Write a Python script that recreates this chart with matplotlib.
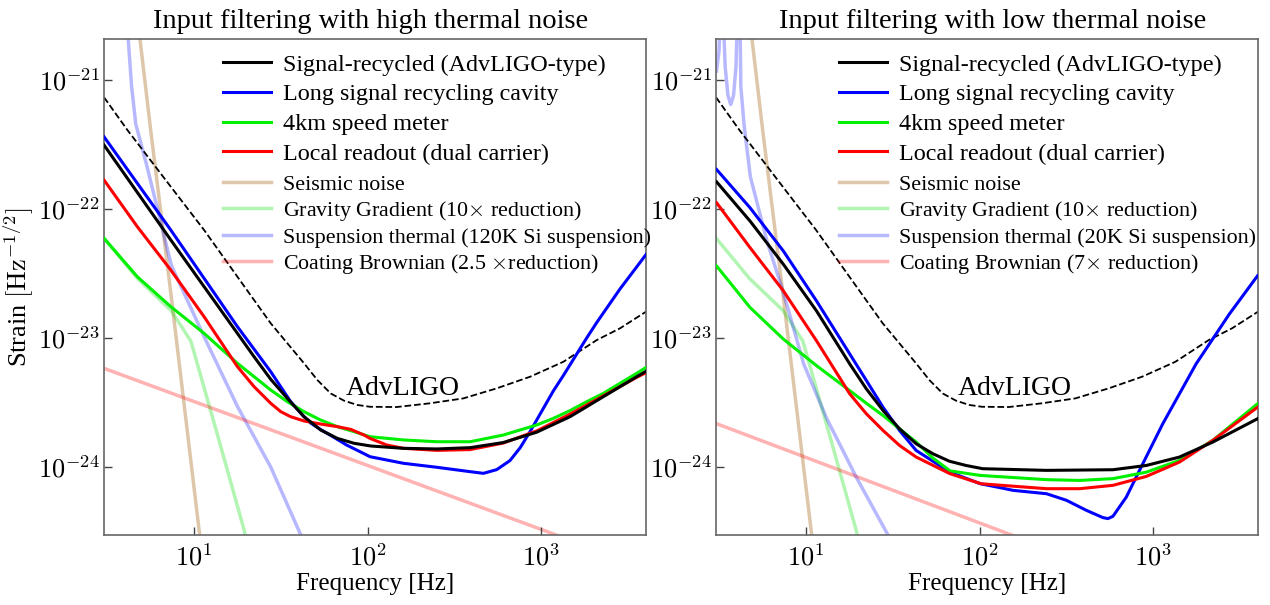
import numpy as np
import matplotlib
matplotlib.use('Agg')
import matplotlib.pyplot as plt
from matplotlib.ticker import FuncFormatter, NullLocator

plt.rcParams['font.family'] = ['Liberation Serif', 'DejaVu Serif']
plt.rcParams['mathtext.fontset'] = 'cm'

# ---------------- data (log10 frequency [Hz], log10 strain) ----------------
# AdvLIGO reference (same in both panels)
adv_lf = [0.481, 0.616, 0.866, 1.058, 1.25, 1.442, 1.538, 1.634, 1.711, 1.788, 1.865, 1.941, 2.014, 2.168,
          2.36, 2.552, 2.745, 2.937, 3.129, 3.321, 3.455, 3.605]
adv_lh = [-21.134, -21.388, -21.827, -22.163, -22.525, -22.886, -23.041, -23.196, -23.326, -23.43, -23.486,
          -23.519, -23.533, -23.535, -23.506, -23.468, -23.39, -23.30, -23.184, -23.016, -22.925, -22.796]

# Seismic noise (both panels)
seis_lf = [0.66, 0.689, 0.750, 0.871, 1.029, 1.045]
seis_lh = [-20.40, -20.69, -21.388, -22.705, -24.488, -24.65]

# Gravity gradient, 10x reduction (both panels)
gg_lf = [0.481, 0.675, 0.804, 0.869, 0.982, 1.135, 1.289, 1.30]
gg_lh = [-22.225, -22.54, -22.705, -22.789, -23.025, -23.75, -24.49, -24.56]

# ---- Left panel: high thermal noise ----
hi_black_lf = [0.481, 0.866, 1.25, 1.346, 1.442, 1.538, 1.634, 1.73, 1.826, 1.922, 2.018, 2.206, 2.399,
               2.591, 2.783, 2.975, 3.167, 3.359, 3.551, 3.618]
hi_black_lh = [-21.504, -22.240, -22.964, -23.145, -23.320, -23.468, -23.610, -23.713, -23.778, -23.816,
               -23.837, -23.855, -23.860, -23.85, -23.81, -23.73, -23.61, -23.455, -23.30, -23.248]

hi_blue_lf = [0.481, 0.866, 1.25, 1.442, 1.557, 1.634, 1.673, 1.73, 1.784, 1.880, 1.976, 2.014, 2.206,
              2.399, 2.591, 2.668, 2.745, 2.821, 2.88, 2.937, 3.071, 3.129, 3.263, 3.321, 3.455, 3.618]
hi_blue_lh = [-21.44, -22.163, -22.912, -23.261, -23.494, -23.61, -23.66, -23.71, -23.752, -23.83, -23.894,
              -23.92, -23.971, -24.002, -24.036, -24.049, -24.02, -23.95, -23.85, -23.725, -23.41, -23.29,
              -23.0, -22.88, -22.62, -22.33]

hi_green_lf = [0.481, 0.673, 0.866, 1.058, 1.25, 1.442, 1.538, 1.634, 1.73, 1.826, 1.922, 2.014, 2.206,
               2.399, 2.591, 2.687, 2.783, 2.879, 2.975, 3.071, 3.167, 3.263, 3.359, 3.455, 3.551, 3.618]
hi_green_lh = [-22.227, -22.525, -22.757, -22.964, -23.196, -23.403, -23.494, -23.571, -23.636, -23.687,
               -23.726, -23.765, -23.79, -23.804, -23.804, -23.778, -23.752, -23.713, -23.674, -23.623,
               -23.563, -23.494, -23.429, -23.351, -23.274, -23.217]

hi_red_lf = [0.481, 0.673, 0.866, 1.058, 1.25, 1.346, 1.442, 1.5, 1.557, 1.634, 1.73, 1.826, 1.903, 1.98,
             2.014, 2.11, 2.206, 2.399, 2.591, 2.783, 2.975, 3.167, 3.359, 3.551, 3.618]
hi_red_lh = [-21.775, -22.137, -22.473, -22.835, -23.222, -23.377, -23.506, -23.571, -23.610, -23.643,
             -23.667, -23.687, -23.708, -23.752, -23.778, -23.829, -23.855, -23.871, -23.865, -23.814,
             -23.72, -23.59, -23.448, -23.305, -23.26]

hi_susp_lf = [0.600, 0.615, 0.621, 0.640, 0.664, 0.727, 0.870, 1.058, 1.250, 1.442, 1.611, 1.65]
hi_susp_lh = [-20.0, -20.4, -20.69, -21.05, -21.34, -21.66, -22.44, -22.99, -23.53, -24.00, -24.514, -24.6]

hi_coat_lf = [0.481, 3.062, 3.15]
hi_coat_lh = [-23.235, -24.514, -24.56]

# ---- Right panel: low thermal noise ----
lo_black_lf = [0.484, 0.677, 0.869, 1.060, 1.252, 1.348, 1.444, 1.539, 1.635, 1.731, 1.826, 1.922, 2.018,
               2.386, 2.769, 2.961, 3.152, 3.344, 3.602]
lo_black_lh = [-21.789, -22.093, -22.428, -22.789, -23.201, -23.395, -23.562, -23.704, -23.82, -23.897,
               -23.955, -23.988, -24.013, -24.026, -24.021, -23.988, -23.923, -23.807, -23.626]

lo_blue_lf = [0.484, 0.677, 0.869, 1.060, 1.252, 1.348, 1.444, 1.539, 1.635, 1.83, 2.003, 2.099, 2.194,
              2.386, 2.501, 2.616, 2.711, 2.74, 2.769, 2.846, 2.922, 3.056, 3.248, 3.440, 3.602]
lo_blue_lh = [-21.693, -21.99, -22.325, -22.712, -23.124, -23.33, -23.537, -23.717, -23.872, -24.04,
              -24.129, -24.155, -24.181, -24.207, -24.258, -24.336, -24.392, -24.40, -24.382, -24.233,
              -24.026, -23.665, -23.201, -22.814, -22.518]

lo_green_lf = [0.484, 0.677, 0.869, 1.060, 1.252, 1.348, 1.444, 1.539, 1.635, 1.731, 1.83, 2.003, 2.386,
               2.578, 2.769, 2.961, 3.152, 3.344, 3.602]
lo_green_lh = [-22.441, -22.763, -23.008, -23.214, -23.408, -23.506, -23.601, -23.704, -23.807, -23.93,
               -24.03, -24.065, -24.098, -24.104, -24.09, -24.04, -23.949, -23.794, -23.510]

lo_red_lf = [0.484, 0.677, 0.869, 1.060, 1.252, 1.348, 1.444, 1.539, 1.635, 1.83, 2.01, 2.386, 2.578,
             2.769, 2.961, 3.152, 3.344, 3.602]
lo_red_lh = [-21.951, -22.299, -22.634, -23.021, -23.433, -23.588, -23.717, -23.833, -23.923, -24.052,
             -24.13, -24.168, -24.168, -24.142, -24.073, -23.962, -23.794, -23.537]

lo_susp_lf = [0.484, 0.498, 0.508, 0.514, 0.521, 0.534, 0.550, 0.566, 0.582, 0.596, 0.606, 0.614, 0.624,
              0.643, 0.679, 0.775, 0.870, 0.986, 1.118, 1.290, 1.467, 1.50]
lo_susp_lh = [-20.93, -20.78, -20.45, -19.9, -20.45, -20.90, -21.12, -21.19, -21.12, -20.90, -20.45,
              -19.9, -21.05, -21.35, -21.75, -22.25, -22.65, -23.20, -23.62, -24.08, -24.514, -24.6]

lo_coat_lf = [0.486, 2.147, 2.25]
lo_coat_lh = [-23.665, -24.508, -24.56]

titles = ['Input filtering with high thermal noise', 'Input filtering with low thermal noise']
main_labels = ['Signal-recycled (AdvLIGO-type)', 'Long signal recycling cavity', '4km speed meter',
               'Local readout (dual carrier)']
noise_labels_hi = ['Seismic noise', r'Gravity Gradient (10$\times$ reduction)',
                   'Suspension thermal (120K Si suspension)', r'Coating Brownian (2.5 $\times$reduction)']
noise_labels_lo = ['Seismic noise', r'Gravity Gradient (10$\times$ reduction)',
                   'Suspension thermal (20K Si suspension)', r'Coating Brownian (7$\times$ reduction)']


def P(a):
    return 10.0 ** np.asarray(a)


W, H = 1270, 605
fig = plt.figure(figsize=(W / 100, H / 100), dpi=100)
ax1 = fig.add_axes([104 / W, 70 / H, 542 / W, 496 / H])
ax2 = fig.add_axes([716 / W, 70 / H, 542 / W, 496 / H])

panels = [
    (ax1, hi_black_lf, hi_black_lh, hi_blue_lf, hi_blue_lh, hi_green_lf, hi_green_lh, hi_red_lf, hi_red_lh,
     hi_susp_lf, hi_susp_lh, hi_coat_lf, hi_coat_lh, noise_labels_hi, titles[0], 0.2196, 0.4917),
    (ax2, lo_black_lf, lo_black_lh, lo_blue_lf, lo_blue_lh, lo_green_lf, lo_green_lh, lo_red_lf, lo_red_lh,
     lo_susp_lf, lo_susp_lh, lo_coat_lf, lo_coat_lh, noise_labels_lo, titles[1], 0.227, 0.511),
]

lw = 2.2
MAIN_FS = 17.4
NOISE_FS = 15.8
for (ax, bkf, bkh, blf, blh, gf, gh, rf, rh, sf, sh, cf, ch, nlabels, title, legx, tx) in panels:
    l_seis, = ax.plot(P(seis_lf), P(seis_lh), color='tan', alpha=0.75, lw=2.5, zorder=1)
    l_gg, = ax.plot(P(gg_lf), P(gg_lh), color='#00dd00', alpha=0.3, lw=2.5, zorder=1)
    l_susp, = ax.plot(P(sf), P(sh), color='#0000ff', alpha=0.28, lw=2.5, zorder=1)
    l_coat, = ax.plot(P(cf), P(ch), color='#ff0000', alpha=0.3, lw=2.5, zorder=1)
    ax.plot(P(adv_lf), P(adv_lh), color='k', ls='--', lw=1.3, zorder=2)
    l_blue, = ax.plot(P(blf), P(blh), color='#0000ff', lw=lw, zorder=3, solid_joinstyle='round')
    l_green, = ax.plot(P(gf), P(gh), color='#00f000', lw=lw, zorder=3, solid_joinstyle='round')
    l_red, = ax.plot(P(rf), P(rh), color='#ff0000', lw=lw, zorder=3, solid_joinstyle='round')
    l_black, = ax.plot(P(bkf), P(bkh), color='k', lw=lw, zorder=4, solid_joinstyle='round')
    ax.set_xscale('log')
    ax.set_yscale('log')
    ax.set_xlim(10 ** 0.481, 10 ** 3.605)
    ax.set_ylim(10 ** -24.527, 10 ** -20.682)
    ax.set_xticks([10, 100, 1000])
    ax.set_yticks([1e-24, 1e-23, 1e-22, 1e-21])
    fmt = FuncFormatter(lambda v, p: r'$10^{%d}$' % int(round(np.log10(v))))
    ax.xaxis.set_major_formatter(fmt)
    ax.yaxis.set_major_formatter(fmt)
    ax.xaxis.set_minor_locator(NullLocator())
    ax.yaxis.set_minor_locator(NullLocator())
    ax.tick_params(which='major', direction='in', length=6, width=1.0, color='#444444',
                   labelsize=19, top=False, right=False)
    ax.tick_params(axis='y', pad=3)
    ax.tick_params(axis='x', pad=6)
    for s in ax.spines.values():
        s.set_color('#666666')
        s.set_linewidth(1.2)
    ax.set_xlabel('Frequency [Hz]', fontsize=18, labelpad=2)
    ax.set_title(title, fontsize=20.5, pad=8, x=tx)
    ax.text(160, 10 ** -23.39, 'AdvLIGO', fontsize=20, ha='center', va='center', zorder=5)

    px = MAIN_FS * 100 / 72.0
    leg1 = ax.legend([l_black, l_blue, l_green, l_red], main_labels, loc='upper left',
                     bbox_to_anchor=(legx, 0.970), frameon=False, borderpad=0, borderaxespad=0,
                     handlelength=48 / px, handletextpad=12 / px, labelspacing=0.32, fontsize=MAIN_FS)
    ax.add_artist(leg1)
    pn = NOISE_FS * 100 / 72.0
    ax.legend([l_seis, l_gg, l_susp, l_coat], nlabels, loc='upper left',
              bbox_to_anchor=(legx, 0.7266), frameon=False, borderpad=0, borderaxespad=0,
              handlelength=48 / pn, handletextpad=12 / pn, labelspacing=0.19, fontsize=NOISE_FS)

ax1.set_ylabel(r'Strain $[\mathrm{Hz}^{-1/2}]$', fontsize=19, labelpad=2)

fig.savefig('out.png', dpi=100, facecolor='white')
